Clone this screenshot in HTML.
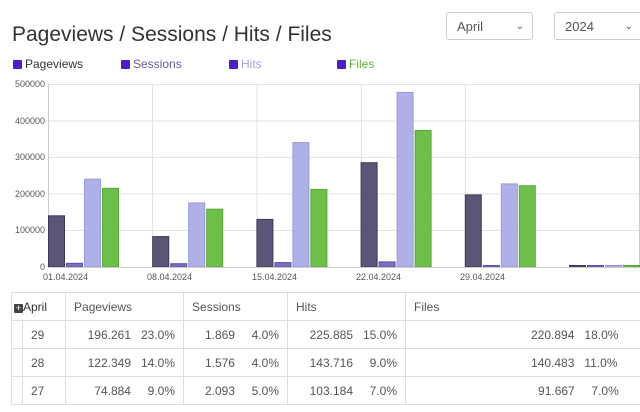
<!DOCTYPE html>
<html><head><style>
body{margin:0;width:640px;height:412px;overflow:hidden;background:#fff;font-family:"Liberation Sans",sans-serif;color:#444;position:relative}
.abs{position:absolute}
h1{position:absolute;left:12px;top:23px;margin:0;font-size:21px;font-weight:normal;color:#333}
.sel{position:absolute;top:12px;height:28px;border:1px solid #ccc;border-radius:3px;font-size:13px;color:#555;line-height:28px;padding-left:10px;box-sizing:border-box}
.cb{position:absolute;top:57px;font-size:12px}
.cb i{display:inline-block;width:9px;height:9px;background:#4a1fc9;vertical-align:-1px;margin-right:3px;border-radius:1px}
table{position:absolute;left:11px;top:292px;border-collapse:collapse;font-size:12px;color:#555;table-layout:fixed;width:660px}
td{border:1px solid #ddd;height:28px;padding:0 8px;box-sizing:border-box;white-space:nowrap}
.r{text-align:right}
</style></head><body>
<h1>Pageviews / Sessions / Hits / Files</h1>
<div class="sel" style="left:446px;width:87px">April<span style="position:absolute;right:8px;font-size:10px">&#8964;</span></div>
<div class="sel" style="left:554px;width:100px">2024<span style="position:absolute;right:20px;font-size:10px">&#8964;</span></div>
<div class="cb" style="left:13px;color:#333"><i></i>Pageviews</div>
<div class="cb" style="left:121px;color:#6a5a9a"><i></i>Sessions</div>
<div class="cb" style="left:229px;color:#a89ee0"><i></i>Hits</div>
<div class="cb" style="left:337px;color:#5bb33a"><i></i>Files</div>
<svg class="abs" style="left:0;top:0" width="640" height="290">
<g font-size="9" fill="#555" text-anchor="end" font-family="Liberation Sans">
<text x="45" y="87">500000</text><text x="45" y="124">400000</text><text x="45" y="160">300000</text><text x="45" y="197">200000</text><text x="45" y="233">100000</text><text x="45" y="270">0</text>
</g>
<g stroke="#e3e3e3" stroke-width="1">
<line x1="48" y1="84.5" x2="640" y2="84.5"/><line x1="48" y1="121" x2="640" y2="121"/><line x1="48" y1="157.5" x2="640" y2="157.5"/><line x1="48" y1="194" x2="640" y2="194"/><line x1="48" y1="230.5" x2="640" y2="230.5"/>
<line x1="152.5" y1="84" x2="152.5" y2="267"/><line x1="257" y1="84" x2="257" y2="267"/><line x1="361.5" y1="84" x2="361.5" y2="267"/><line x1="465.5" y1="84" x2="465.5" y2="267"/>
</g>
<line x1="48.5" y1="84" x2="48.5" y2="267" stroke="#ccc"/>
<line x1="639.5" y1="84" x2="639.5" y2="267" stroke="#ccc"/>
<g stroke-width="1">
<g fill="#5c5577" stroke="#3e3855">
<rect x="48.5" y="215.8" width="16" height="51.2"/>
<rect x="152.7" y="236.6" width="16" height="30.4"/>
<rect x="256.9" y="219.4" width="16" height="47.6"/>
<rect x="361.1" y="162.7" width="16" height="104.3"/>
<rect x="465.3" y="194.9" width="16" height="72.1"/>
<rect x="569.5" y="265.5" width="16" height="1.5"/>
</g>
<g fill="#7b6fc0" stroke="#5a4fa0">
<rect x="66.5" y="263.3" width="16" height="3.7"/>
<rect x="170.7" y="263.7" width="16" height="3.3"/>
<rect x="274.9" y="262.6" width="16" height="4.4"/>
<rect x="379.1" y="261.9" width="16" height="5.1"/>
<rect x="483.3" y="265.5" width="16" height="1.5"/>
<rect x="587.5" y="265.5" width="16" height="1.5"/>
</g>
<g fill="#b0b0e8" stroke="#9a9ad8">
<rect x="84.5" y="179.2" width="16" height="87.8"/>
<rect x="188.7" y="202.9" width="16" height="64.1"/>
<rect x="292.9" y="142.6" width="16" height="124.4"/>
<rect x="397.1" y="92.4" width="16" height="174.6"/>
<rect x="501.3" y="183.9" width="16" height="83.1"/>
<rect x="605.5" y="265.5" width="16" height="1.5"/>
</g>
<g fill="#6cc04a" stroke="#58a838">
<rect x="102.5" y="188.3" width="16" height="78.7"/>
<rect x="206.7" y="209.2" width="16" height="57.8"/>
<rect x="310.9" y="189.4" width="16" height="77.6"/>
<rect x="415.1" y="130.5" width="16" height="136.5"/>
<rect x="519.3" y="185.7" width="16" height="81.3"/>
<rect x="623.5" y="265.5" width="16" height="1.5"/>
</g>
</g>
<line x1="48" y1="267.5" x2="640" y2="267.5" stroke="#ccc"/>
<g font-size="9" fill="#555" font-family="Liberation Sans">
<text x="43" y="280">01.04.2024</text><text x="147" y="280">08.04.2024</text><text x="252" y="280">15.04.2024</text><text x="356" y="280">22.04.2024</text><text x="460" y="280">29.04.2024</text>
</g>
</svg>
<table>
<colgroup><col style="width:11px"><col style="width:43px"><col style="width:118px"><col style="width:104px"><col style="width:118px"><col style="width:266px"></colgroup>
<tr><td colspan="2" style="padding:0 0 0 2px;color:#333"><span style="display:inline-block;width:9px;height:9px;background:#444;color:#fff;font-size:9px;line-height:9px;text-align:center;border-radius:1px">+</span>April</td><td>Pageviews</td><td>Sessions</td><td>Hits</td><td>Files</td></tr>
<tr><td style="padding:0"></td><td>29</td><td class="r">196.261&nbsp;&nbsp;&nbsp;23.0%</td><td class="r">1.869&nbsp;&nbsp;&nbsp;&nbsp;&nbsp;4.0%</td><td class="r">225.885&nbsp;&nbsp;&nbsp;15.0%</td><td style="padding-left:125px">220.894&nbsp;&nbsp;&nbsp;18.0%</td></tr>
<tr><td style="padding:0"></td><td>28</td><td class="r">122.349&nbsp;&nbsp;&nbsp;14.0%</td><td class="r">1.576&nbsp;&nbsp;&nbsp;&nbsp;&nbsp;4.0%</td><td class="r">143.716&nbsp;&nbsp;&nbsp;&nbsp;&nbsp;9.0%</td><td style="padding-left:125px">140.483&nbsp;&nbsp;&nbsp;11.0%</td></tr>
<tr><td style="padding:0"></td><td>27</td><td class="r">74.884&nbsp;&nbsp;&nbsp;&nbsp;&nbsp;9.0%</td><td class="r">2.093&nbsp;&nbsp;&nbsp;&nbsp;&nbsp;5.0%</td><td class="r">103.184&nbsp;&nbsp;&nbsp;&nbsp;&nbsp;7.0%</td><td style="padding-left:132px">91.667&nbsp;&nbsp;&nbsp;&nbsp;&nbsp;7.0%</td></tr>
</table>
</body></html>
